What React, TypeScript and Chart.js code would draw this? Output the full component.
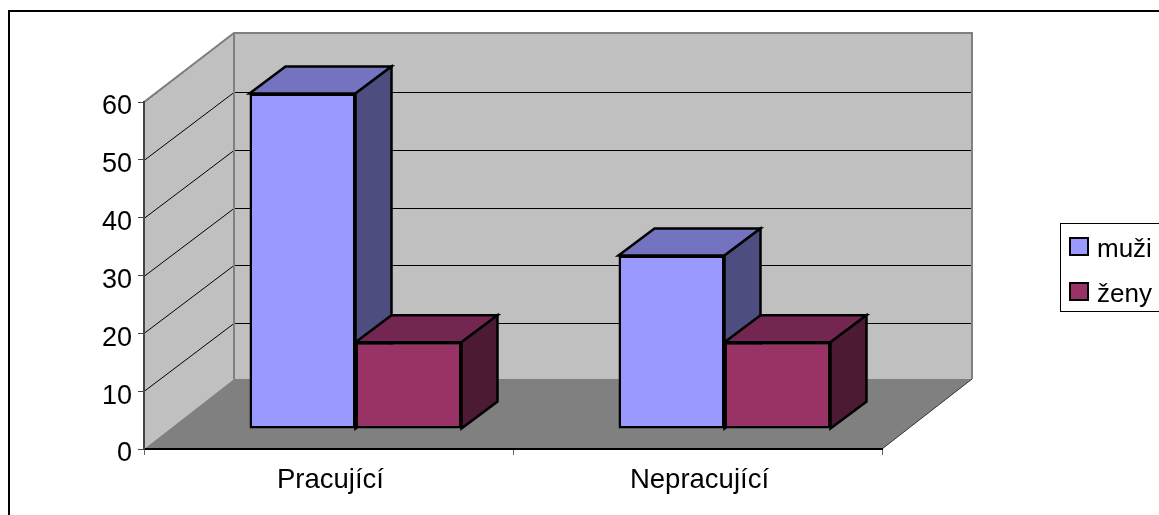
import React, { useEffect, useRef } from "react";
import { Chart, registerables } from "chart.js";

Chart.register(...registerables);

const categories = ["Pracující", "Nepracující"];
const muzi = [58, 30];
const zeny = [15, 15];
const gridValues = [10, 20, 30, 40, 50, 60];

const FONT = '"Liberation Sans", Arial, sans-serif';

// Depth of the box the columns stand in, and of the columns themselves.
const WALL_DX = 90;
const WALL_TOP_DY = -69;
const WALL_DY = -70;
const GRID_DY = -68;
const COLUMN_SHIFT_X = 27;
const COLUMN_SHIFT_Y = -20;
const COLUMN_DX = 36;
const COLUMN_DY = -27;

function polygon(ctx: CanvasRenderingContext2D, pts: number[][], fill?: string, stroke?: string, lw = 1) {
  ctx.beginPath();
  pts.forEach(([x, y], i) => (i ? ctx.lineTo(x, y) : ctx.moveTo(x, y)));
  ctx.closePath();
  if (fill) {
    ctx.fillStyle = fill;
    ctx.fill();
  }
  if (stroke) {
    ctx.strokeStyle = stroke;
    ctx.lineWidth = lw;
    ctx.lineJoin = "miter";
    ctx.stroke();
  }
}

// Frame, walls, floor and gridlines behind the columns.
const boxPlugin = {
  id: "box3d",
  beforeDraw(chart: any) {
    const { ctx, chartArea: a, scales } = chart;
    ctx.save();
    ctx.strokeStyle = "#000";
    ctx.lineWidth = 2;
    ctx.strokeRect(9, 11, 1400, 700);

    const bx = a.left + WALL_DX;
    const rx = a.right + WALL_DX;
    const topBack = a.top + WALL_TOP_DY;
    const botBack = a.bottom + WALL_DY;

    polygon(ctx, [[a.left, a.top], [bx, topBack], [bx, botBack], [a.left, a.bottom]], "#C0C0C0");
    polygon(ctx, [[bx, topBack], [rx, topBack], [rx, botBack], [bx, botBack]], "#C0C0C0");

    ctx.strokeStyle = "#000";
    ctx.lineWidth = 1;
    for (const v of gridValues) {
      const y = Math.round(scales.y.getPixelForValue(v)) + 0.5;
      const back = y + GRID_DY;
      ctx.beginPath();
      ctx.moveTo(a.left, y);
      ctx.lineTo(bx, v === 60 ? topBack : back);
      if (v !== 60) ctx.lineTo(rx, back);
      ctx.stroke();
    }

    // Top diagonal of the side wall and the wall edges.
    ctx.strokeStyle = "#808080";
    ctx.lineWidth = 2;
    ctx.beginPath();
    ctx.moveTo(a.left, a.top);
    ctx.lineTo(bx, topBack);
    ctx.lineTo(rx, topBack);
    ctx.lineTo(rx, botBack);
    ctx.moveTo(bx, topBack);
    ctx.lineTo(bx, botBack);
    ctx.stroke();

    polygon(ctx, [[a.left, a.bottom], [a.right, a.bottom], [rx, botBack], [bx, botBack]], "#808080");
    ctx.strokeStyle = "#333";
    ctx.lineWidth = 1;
    ctx.beginPath();
    ctx.moveTo(a.right, a.bottom);
    ctx.lineTo(rx, botBack);
    ctx.stroke();
    ctx.restore();
  },
  // The columns stand inside the box, so they are shifted back together with their faces.
  beforeDatasetsDraw(chart: any) {
    const { ctx } = chart;
    ctx.save();
    ctx.translate(COLUMN_SHIFT_X, COLUMN_SHIFT_Y);
    chart.data.datasets.forEach((ds: any, i: number) => {
      chart.getDatasetMeta(i).data.forEach((el: any) => {
        const l = el.x - el.width / 2;
        const r = el.x + el.width / 2;
        polygon(
          ctx,
          [[l, el.y], [l + COLUMN_DX, el.y + COLUMN_DY], [r + COLUMN_DX, el.y + COLUMN_DY], [r, el.y]],
          ds.topColor,
          "#000",
          2.5
        );
        polygon(
          ctx,
          [[r, el.y], [r + COLUMN_DX, el.y + COLUMN_DY], [r + COLUMN_DX, el.base + COLUMN_DY], [r, el.base]],
          ds.sideColor,
          "#000",
          2.5
        );
      });
    });
  },
  afterDatasetsDraw(chart: any) {
    chart.ctx.restore();
  },
  // Series key in its bordered box on the right.
  afterDraw(chart: any) {
    const { ctx } = chart;
    ctx.save();
    ctx.strokeStyle = "#000";
    ctx.lineWidth = 1;
    ctx.strokeRect(1060.5, 223.5, 200, 88);
    ctx.font = `26px ${FONT}`;
    ctx.textAlign = "left";
    ctx.textBaseline = "alphabetic";
    chart.data.datasets.forEach((ds: any, i: number) => {
      const y = 238 + i * 45;
      ctx.fillStyle = ds.backgroundColor;
      ctx.fillRect(1070, y, 18, 17);
      ctx.strokeStyle = "#000";
      ctx.lineWidth = 2;
      ctx.strokeRect(1070, y, 18, 17);
      ctx.fillStyle = "#000";
      ctx.fillText(ds.label, 1097, y + 19);
    });
    ctx.restore();
  },
};

export default function App() {
  const ref = useRef<HTMLCanvasElement | null>(null);

  useEffect(() => {
    const chart = new Chart(ref.current as HTMLCanvasElement, {
      type: "bar",
      data: {
        labels: categories,
        datasets: [
          {
            label: "muži",
            data: muzi,
            backgroundColor: "#9999FF",
            topColor: "#7373BF",
            sideColor: "#4D4D80",
          },
          {
            label: "ženy",
            data: zeny,
            backgroundColor: "#993366",
            topColor: "#732650",
            sideColor: "#4D1A33",
          },
        ].map((d) => ({
          ...d,
          borderColor: "#000",
          borderWidth: 2.5,
          borderSkipped: false,
          barPercentage: 1,
          categoryPercentage: 0.5745,
          clip: false,
        })) as any,
      },
      options: {
        animation: false,
        responsive: false,
        layout: { padding: { left: 94, top: 102, right: 277, bottom: 16 } },
        plugins: { legend: { display: false }, tooltip: { enabled: false }, title: { display: false } },
        scales: {
          x: {
            afterFit: (s: any) => {
              s.height = 50;
            },
            grid: { drawOnChartArea: false, tickLength: 6, color: "#666" },
            border: { color: "#000", width: 2 },
            ticks: {
              color: "#000",
              font: { family: FONT, size: 27.5 },
              padding: 9,
              maxRotation: 0,
              labelOffset: 2,
            },
          },
          y: {
            min: 0,
            max: 60,
            afterFit: (s: any) => {
              s.width = 50;
            },
            grid: { drawOnChartArea: false, tickLength: 6, color: "#444" },
            border: { color: "#444", width: 2 },
            ticks: {
              stepSize: 10,
              color: "#000",
              font: { family: FONT, size: 27 },
              padding: 6,
              labelOffset: 5,
            },
          },
        },
      },
      plugins: [boxPlugin],
    } as any);
    return () => chart.destroy();
  }, []);

  return (
    <canvas
      ref={ref}
      width={1159}
      height={515}
      style={{ position: "absolute", left: 0, top: 0, width: 1159, height: 515 }}
    />
  );
}
